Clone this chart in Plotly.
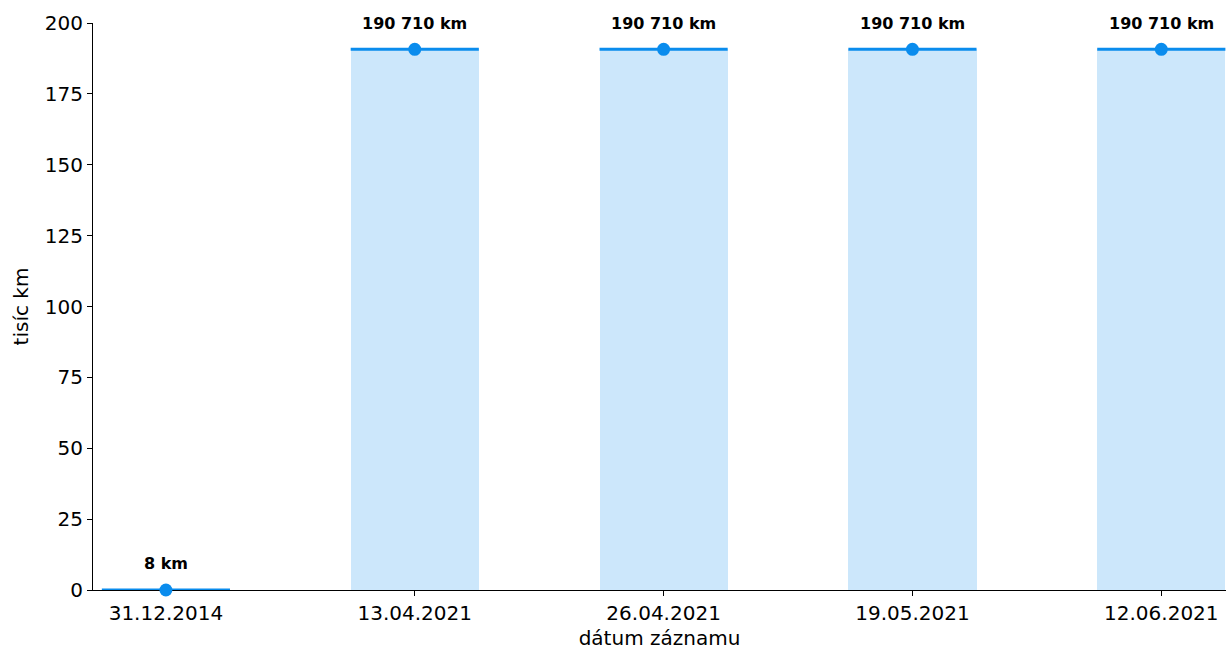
import plotly.graph_objects as go

dates = ["31.12.2014", "13.04.2021", "26.04.2021", "19.05.2021", "12.06.2021"]
values_thousand_km = [0.008, 190.71, 190.71, 190.71, 190.71]
y_ticks = [0, 25, 50, 75, 100, 125, 150, 175, 200]

BAR_W = 0.515
FILL = "#cce7fb"
LINE = "#0a8ced"
FONT = "DejaVu Sans"

xs = list(range(len(dates)))

def fmt_km(v):
    km = int(round(v * 1000))
    return f"{km:,}".replace(",", " ") + " km"

fig = go.Figure()
fig.add_trace(go.Bar(x=xs, y=values_thousand_km, width=BAR_W,
                     marker=dict(color=FILL, line=dict(width=0)),
                     hoverinfo="skip"))
lx, ly = [], []
for x, v in zip(xs, values_thousand_km):
    lx += [x - BAR_W / 2, x + BAR_W / 2, None]
    ly += [v, v, None]
fig.add_trace(go.Scatter(x=lx, y=ly, mode="lines", cliponaxis=False,
                         line=dict(color=LINE, width=3), hoverinfo="skip"))
fig.add_trace(go.Scatter(x=xs, y=values_thousand_km, mode="markers",
                         marker=dict(color=LINE, size=13), cliponaxis=False))

for x, v in zip(xs, values_thousand_km):
    fig.add_annotation(x=x, y=v, text="<b>" + fmt_km(v) + "</b>",
                       showarrow=False, yshift=26,
                       font=dict(family=FONT, size=16, color="black"))

fig.update_layout(
    width=1226, height=650,
    margin=dict(l=93, r=0, t=23, b=60),
    plot_bgcolor="white", paper_bgcolor="white",
    showlegend=False, bargap=0,
    font=dict(family=FONT, size=20, color="black"),
)
fig.update_xaxes(
    range=[-0.293, 4.26], tickmode="array", tickvals=xs, ticktext=dates,
    showgrid=False, zeroline=False, showline=True, linecolor="black",
    linewidth=1.2, ticks="outside", ticklen=5, tickcolor="black",
    title=dict(text="dátum záznamu", font=dict(size=20), standoff=8),
    tickfont=dict(size=20), automargin=False, layer="below traces",
)
fig.update_yaxes(
    range=[0, 200], tickmode="array", tickvals=y_ticks,
    showgrid=False, zeroline=False, showline=True, linecolor="black",
    linewidth=1.2, ticks="outside", ticklen=5, tickcolor="black",
    title=dict(text="tisíc km", font=dict(size=20), standoff=10),
    tickfont=dict(size=20), automargin=False, layer="below traces",
)
fig.write_html(
    "out.html",
    config={"displayModeBar": False},
    post_script="document.body.style.margin='0';document.body.style.overflow='hidden';",
)
